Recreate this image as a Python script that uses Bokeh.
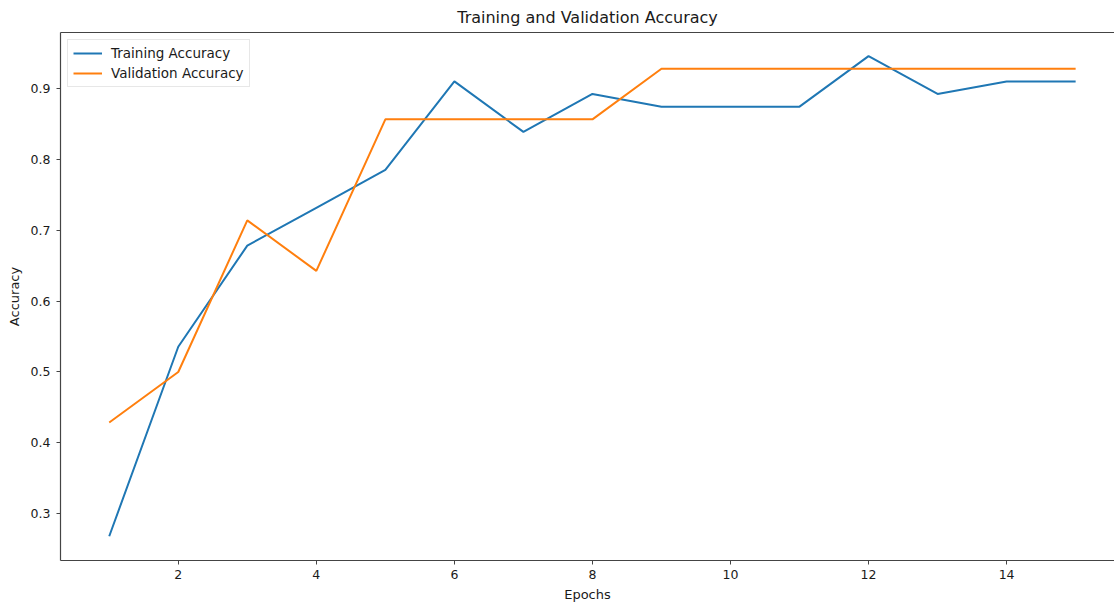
from bokeh.plotting import figure
from bokeh.models import Range1d, LinearAxis, Legend, LegendItem, FixedTicker
from bokeh.embed import file_html
from bokeh.resources import INLINE

epochs = list(range(1, 16))
train_acc = [0.2679, 0.5357, 0.6786, 0.7321, 0.7857, 0.9107, 0.8393, 0.8929,
             0.875, 0.875, 0.875, 0.9464, 0.8929, 0.9107, 0.9107]
val_acc = [0.4286, 0.5, 0.7143, 0.6429, 0.8571, 0.8571, 0.8571, 0.8571,
           0.9286, 0.9286, 0.9286, 0.9286, 0.9286, 0.9286, 0.9286]
x_ticks = [2, 4, 6, 8, 10, 12, 14]
y_ticks = [0.3, 0.4, 0.5, 0.6, 0.7, 0.8, 0.9]

FONT = "DejaVu Sans"
AX = "#444444"
TXT = "#1a1a1a"

p = figure(width=1114, height=605,
           x_range=Range1d(0.294, 15.563), y_range=Range1d(0.2336, 0.9798),
           output_backend="svg", toolbar_location=None,
           min_border_left=60, min_border_right=0, min_border_top=0, min_border_bottom=45,
           title="Training and Validation Accuracy")

p.title.align = "center"
p.title.text_font = FONT
p.title.text_font_size = "16px"
p.title.text_font_style = "normal"
p.title.text_color = TXT
p.title.offset = 0
p.title.padding = 3
p.title.standoff = 5

p.outline_line_color = None
p.xgrid.visible = False
p.ygrid.visible = False

for ax in (p.xaxis[0], p.yaxis[0]):
    ax.axis_line_color = AX
    ax.axis_line_width = 1.2
    ax.major_tick_line_color = AX
    ax.major_tick_in = 0
    ax.major_tick_out = 4
    ax.minor_tick_line_color = None
    ax.major_label_text_font = FONT
    ax.major_label_text_font_size = "12.5px"
    ax.major_label_text_color = TXT
    ax.axis_label_text_font = FONT
    ax.axis_label_text_font_size = "13px"
    ax.axis_label_text_font_style = "normal"
    ax.axis_label_text_color = TXT

p.xaxis[0].ticker = FixedTicker(ticks=x_ticks)
p.yaxis[0].ticker = FixedTicker(ticks=y_ticks)
p.xaxis[0].axis_label = "Epochs"
p.yaxis[0].axis_label = "Accuracy"
p.xaxis[0].axis_label_standoff = 5
p.yaxis[0].axis_label_standoff = 6
p.xaxis[0].major_label_standoff = 5
p.yaxis[0].major_label_standoff = 6

top = LinearAxis(axis_line_color=AX, axis_line_width=1.2, ticker=FixedTicker(ticks=[]),
                 major_tick_line_color=None, minor_tick_line_color=None,
                 major_label_standoff=0, major_tick_out=0, major_tick_in=0)
p.add_layout(top, "above")

r1 = p.line(epochs, train_acc, line_color="#1f77b4", line_width=2)
r2 = p.line(epochs, val_acc, line_color="#ff7f0e", line_width=2)

legend = Legend(items=[LegendItem(label="Training Accuracy", renderers=[r1]),
                       LegendItem(label="Validation Accuracy", renderers=[r2])],
                location="top_left")
legend.label_text_font = FONT
legend.label_text_font_size = "13.5px"
legend.label_text_color = TXT
legend.border_line_color = "#d0d0d0"
legend.border_line_width = 1
legend.background_fill_alpha = 0.8
legend.glyph_width = 29
legend.glyph_height = 14
legend.label_height = 14
legend.spacing = 4
legend.padding = 5
legend.margin = 7
legend.label_standoff = 9
p.add_layout(legend)

open("out.html", "w").write(file_html(p, INLINE))
